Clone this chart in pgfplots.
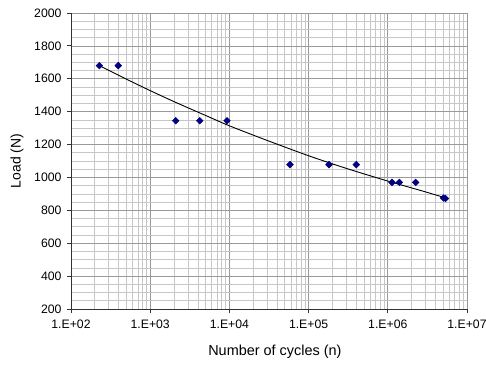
\documentclass[border=0pt]{standalone}
\usepackage{fontspec}
\setmainfont{Liberation Sans}
\usepackage{pgfplots}
\pgfplotsset{compat=1.18}
\definecolor{marknavy}{HTML}{000080}
\begin{document}
\begin{tikzpicture}
\begin{axis}[
  scale only axis, width=396bp, height=296bp,
  xmode=log, log basis x=10,
  xmin=100, xmax=1e7, ymin=200, ymax=2000,
  xtick={1e2,1e3,1e4,1e5,1e6,1e7},
  xticklabels={1.E+02,1.E+03,1.E+04,1.E+05,1.E+06,1.E+07},
  minor xtick={200,300,400,500,600,700,800,900,2000,3000,4000,5000,6000,7000,8000,9000,20000,30000,40000,50000,60000,70000,80000,90000,200000,300000,400000,500000,600000,700000,800000,900000,2000000,3000000,4000000,5000000,6000000,7000000,8000000,9000000},
  ytick={200,400,...,2000},
  minor y tick num=3,
  grid=both,
  major grid style={draw=black!40, line width=0.7bp},
  minor grid style={draw=black!22, line width=0.7bp},
  axis x line*=bottom, axis y line*=left,
  axis line style={draw=black!80, line width=0.9bp, -},
  tick align=outside, major tick length=4bp, minor tick length=0bp,
  tick style={draw=black!80, line width=0.8bp},
  /pgf/number format/assume math mode=true,
  yticklabel style={/pgf/number format/1000 sep={}, font=\fontsize{12.3}{12.3}\selectfont, xshift=-2bp},
  xticklabel style={font=\fontsize{12.3}{12.3}\selectfont, yshift=-3bp},
  xlabel={Number of cycles (n)},
  ylabel={Load (N)},
  xlabel style={font=\fontsize{14.5}{14.5}\selectfont, at={(axis description cs:0.515,-0.1453)}, anchor=center},
  ylabel style={font=\fontsize{14}{14}\selectfont, at={(axis description cs:-0.1364,0.5)}, anchor=center},
  clip=false,
]
\addplot[black, line width=0.9bp, smooth] coordinates {
  (228,1680) (500,1598) (1000,1528) (2000,1461) (5000,1377) (10000,1314)
  (30000,1225) (100000,1132) (300000,1055) (1000000,978) (3000000,912) (5300000,876)
};
\addplot[only marks, mark=square*, mark size=2.4bp, mark options={rotate=45, draw=marknavy, fill=marknavy}] coordinates {
  (228,1680) (395,1680)
  (2100,1345) (4220,1345) (9330,1345)
  (58200,1078) (181000,1078) (400000,1078)
  (1130000,970) (1400000,970) (2250000,970)
  (5050000,875) (5350000,872)
};
\coordinate (sw) at (rel axis cs:0,0);
\coordinate (ne) at (rel axis cs:1,1);
\end{axis}
\pgfresetboundingbox
\path ([shift={(-71bp,-56bp)}]sw) rectangle ([shift={(19bp,13bp)}]ne);
\end{tikzpicture}
\end{document}
